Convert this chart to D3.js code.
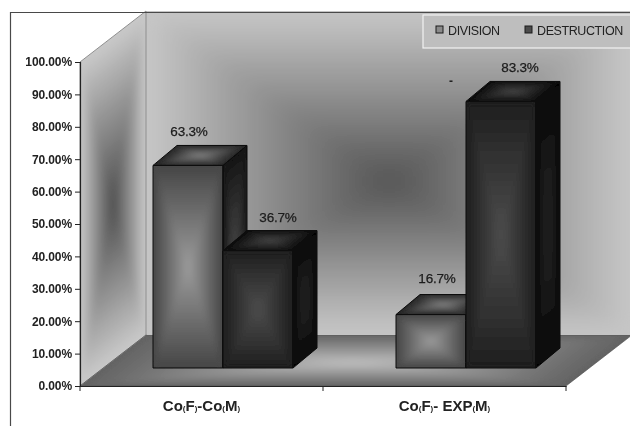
<!DOCTYPE html>
<html>
<head>
<meta charset="utf-8">
<script src="https://cdnjs.cloudflare.com/ajax/libs/d3/7.8.5/d3.min.js"></script>
<style>
  html, body { margin: 0; padding: 0; background: #fff; }
  svg { display: block; font-family: "Liberation Sans", Arial, sans-serif; }
</style>
</head>
<body>
<script>
var categories = ["Co(F)-Co(M)", "Co(F)- EXP(M)"];
var seriesNames = ["DIVISION", "DESTRUCTION"];
var division = [63.3, 16.7];
var destruction = [36.7, 83.3];
var yTicks = [0, 10, 20, 30, 40, 50, 60, 70, 80, 90, 100];

var width = 630, height = 426;
var margin = { top: 62, bottom: 40, left: 80, right: 64 };
var innerH = height - margin.top - margin.bottom;
var innerW = width - margin.left - margin.right;
var wallDx = 66, wallDy = -51;    // depth of the whole plot box
var barDepthX = 24, barDepthY = -20;
var baseShiftX = 24, baseShiftY = -18;   // bars stand a little behind the front edge

var svg = d3.select("body").append("svg")
    .attr("width", width)
    .attr("height", height);

var defs = svg.append("defs");
defs.append("filter").attr("id", "soft")
    .append("feGaussianBlur").attr("stdDeviation", 0.35);

var root = svg.append("g").attr("filter", "url(#soft)");

var x = d3.scaleBand().domain(categories).range([0, innerW]);
var y = d3.scaleLinear().domain([0, 100]).range([innerH, 0]);
var xSeries = d3.scaleBand().domain(seriesNames).range([49, 49 + 140]);
// bars sit deeper in the box so their scale is a bit smaller than the axis
var yBar = d3.scaleLinear().domain([0, 100]).range([innerH + baseShiftY, innerH + baseShiftY - 320]);

var chart = root.append("g")
    .attr("transform", "translate(" + margin.left + "," + margin.top + ")");

var faceCount = 0;

// Excel style "from center" gradient on any parallelogram: concentric copies
// of a unit square mapped on to the face with a matrix, blurred and clipped
function face(parent, ox, oy, ux, uy, vx, vy, edge, center, cu, cv, blur) {
    var steps = 30;
    var color = d3.interpolateRgb(edge, center);
    var id = "face" + (faceCount++);
    var pts = [[ox, oy], [ox + ux, oy + uy], [ox + ux + vx, oy + uy + vy], [ox + vx, oy + vy]]
        .map(function (p) { return p.join(","); }).join(" ");

    defs.append("clipPath").attr("id", id + "c").append("polygon").attr("points", pts);
    defs.append("filter").attr("id", id + "f")
        .attr("x", "-30%").attr("y", "-30%").attr("width", "160%").attr("height", "160%")
        .append("feGaussianBlur").attr("stdDeviation", blur);

    var clipped = parent.append("g").attr("clip-path", "url(#" + id + "c)");
    clipped.append("polygon").attr("points", pts).attr("fill", edge);
    var g = clipped.append("g").attr("filter", "url(#" + id + "f)")
        .append("g")
        .attr("transform", "matrix(" + [ux, uy, vx, vy, ox, oy].join(",") + ")");
    g.selectAll("rect")
        .data(d3.range(steps))
        .enter()
        .append("rect")
        .attr("x", function (d) { return cu * d / steps; })
        .attr("y", function (d) { return cv * d / steps; })
        .attr("width", function (d) { return 1 - d / steps; })
        .attr("height", function (d) { return 1 - d / steps; })
        .attr("fill", function (d) { return color(d / (steps - 1)); });
}

function outline(parent, pts, stroke, sw) {
    parent.append("polygon")
        .attr("points", pts.map(function (p) { return p.join(","); }).join(" "))
        .attr("fill", "none")
        .attr("stroke", stroke)
        .attr("stroke-width", sw)
        .attr("stroke-linejoin", "round");
}

var fullH = y(0) - y(100);

// back wall
face(chart, wallDx, y(100) + wallDy, innerW, 0, 0, fullH - 1,
    "#c6c6c6", "#565656", 0.5, 0.53, 10);
// side wall
face(chart, 0, y(100), wallDx, wallDy, 0, fullH,
    "#c8c8c8", "#505050", 0.5, 0.52, 4);
// floor
face(chart, 0, y(0), innerW, 0, wallDx, wallDy,
    "#646464", "#bdbdbd", 0.5, 0.45, 3);

outline(chart, [[0, y(100)], [wallDx, y(100) + wallDy], [wallDx, y(0) + wallDy], [0, y(0)]], "#8f8f8f", 1);
outline(chart, [[wallDx, y(0) + wallDy], [innerW + wallDx, y(0) + wallDy], [innerW, y(0)], [0, y(0)]], "#555", 0.7);

// bars
var barStyle = {
    DIVISION: {
        front: ["#474747", "#9a9a9a"], side: ["#161616", "#484848"], top: ["#262626", "#7e7e7e"]
    },
    DESTRUCTION: {
        front: ["#1f1f1f", "#4c4c4c"], side: ["#080808", "#262626"], top: ["#0e0e0e", "#444444"]
    }
};

function drawBar(cat, name, value) {
    var st = barStyle[name];
    var x0 = x(cat) + xSeries(name) + baseShiftX;
    var w = xSeries.bandwidth();
    var base = yBar(0);
    var top = yBar(value);
    var h = base - top;
    var g = chart.append("g");

    face(g, x0, top, w, 0, 0, h, st.front[0], st.front[1], 0.5, 0.5, 3);
    face(g, x0 + w, top, barDepthX, barDepthY, 0, h, st.side[0], st.side[1], 0.5, 0.5, 3);
    face(g, x0, top, w, 0, barDepthX, barDepthY, st.top[0], st.top[1], 0.5, 0.5, 2);

    outline(g, [[x0, top], [x0 + w, top], [x0 + w, base], [x0, base]], "#0a0a0a", 1);
    outline(g, [[x0 + w, top], [x0 + w + barDepthX, top + barDepthY], [x0 + w + barDepthX, base + barDepthY], [x0 + w, base]], "#0a0a0a", 1);
    outline(g, [[x0, top], [x0 + barDepthX, top + barDepthY], [x0 + w + barDepthX, top + barDepthY], [x0 + w, top]], "#0a0a0a", 1);
}

categories.forEach(function (cat, i) {
    drawBar(cat, "DIVISION", division[i]);
    drawBar(cat, "DESTRUCTION", destruction[i]);
});

// data labels, nudged by hand like the original
var labelNudge = { DIVISION: [[1, 29], [6, 32]], DESTRUCTION: [[20, 29], [19, 29]] };
function drawLabels(name, values) {
    chart.append("g").selectAll("text")
        .data(values)
        .enter()
        .append("text")
        .attr("x", function (d, i) {
            return x(categories[i]) + xSeries(name) + baseShiftX + xSeries.bandwidth() / 2 + labelNudge[name][i][0];
        })
        .attr("y", function (d, i) { return yBar(d) - labelNudge[name][i][1]; })
        .attr("text-anchor", "middle")
        .attr("font-size", 13.5)
        .attr("letter-spacing", -0.2)
        .attr("fill", "#1c1c1c")
        .attr("stroke", "#1c1c1c")
        .attr("stroke-width", 0.25)
        .text(function (d) { return d.toFixed(1) + "%"; });
}
drawLabels("DIVISION", division);
drawLabels("DESTRUCTION", destruction);

// little mark beside the tall bar
chart.append("text")
    .attr("x", x(categories[1]) + 128)
    .attr("y", yBar(83.3) - 16)
    .attr("text-anchor", "middle")
    .attr("font-size", 12)
    .attr("font-weight", "bold")
    .attr("fill", "#222")
    .text("-");

// axes
var yAxis = d3.axisLeft(y)
    .tickValues(yTicks)
    .tickSize(5)
    .tickPadding(3)
    .tickFormat(function (d) { return d.toFixed(2) + "%"; });

var yG = chart.append("g").attr("class", "y axis").call(yAxis);
yG.select(".domain").attr("stroke", "#222").attr("stroke-width", 1.2);
yG.selectAll("line").attr("stroke", "#222");
yG.selectAll("text")
    .attr("font-family", "\"Liberation Sans\", Arial, sans-serif")
    .attr("font-size", 12)
    .attr("font-weight", "bold")
    .attr("letter-spacing", -0.1)
    .attr("fill", "#222");

var xAxis = d3.axisBottom(x).tickSize(0).tickPadding(14);
var xG = chart.append("g")
    .attr("class", "x axis")
    .attr("transform", "translate(0," + y(0) + ")")
    .call(xAxis);
xG.select(".domain").attr("stroke", "#222").attr("stroke-width", 1.2);
xG.selectAll("text")
    .attr("font-family", "\"Liberation Sans\", Arial, sans-serif")
    .attr("font-size", 15)
    .attr("font-weight", "bold")
    .attr("fill", "#222")
    .each(function (d) {
        var t = d3.select(this).text("");
        d.split(/([()])/).forEach(function (part) {
            var small = part === "(" || part === ")";
            t.append("tspan")
                .attr("font-size", small ? 8 : 15)
                .text(part);
        });
    });

// band boundary ticks on the x axis
xG.selectAll("line.band")
    .data(categories.concat(["end"]))
    .enter()
    .append("line")
    .attr("class", "band")
    .attr("x1", function (d) { return d === "end" ? innerW : x(d); })
    .attr("x2", function (d) { return d === "end" ? innerW : x(d); })
    .attr("y1", 0)
    .attr("y2", 5)
    .attr("stroke", "#222");

// chart frame, only top and left are on the picture
root.append("path")
    .attr("d", d3.line()([[10.5, height], [10.5, 12.5], [width, 12.5]]))
    .attr("fill", "none")
    .attr("stroke", "#4a4a4a")
    .attr("stroke-width", 1.2);

// legend
var legend = root.append("g").attr("transform", "translate(423,15)");
legend.append("rect")
    .attr("width", 210)
    .attr("height", 33)
    .attr("fill", "#bebebe")
    .attr("stroke", "#f2f2f2")
    .attr("stroke-width", 1.2);

var legendX = d3.scaleOrdinal().domain(seriesNames).range([13, 102]);
var legendFill = d3.scaleOrdinal().domain(seriesNames).range(["#8a8a8a", "#4c4c4c"]);
var item = legend.selectAll("g.item")
    .data(seriesNames)
    .enter()
    .append("g")
    .attr("class", "item")
    .attr("transform", function (d) { return "translate(" + legendX(d) + ",11)"; });
item.append("rect")
    .attr("width", 7)
    .attr("height", 7)
    .attr("fill", function (d) { return legendFill(d); })
    .attr("stroke", "#1a1a1a");
item.append("text")
    .attr("x", 12)
    .attr("y", 8.5)
    .attr("font-size", 12.5)
    .attr("letter-spacing", -0.4)
    .attr("fill", "#222")
    .text(function (d) { return d; });
</script>
</body>
</html>
